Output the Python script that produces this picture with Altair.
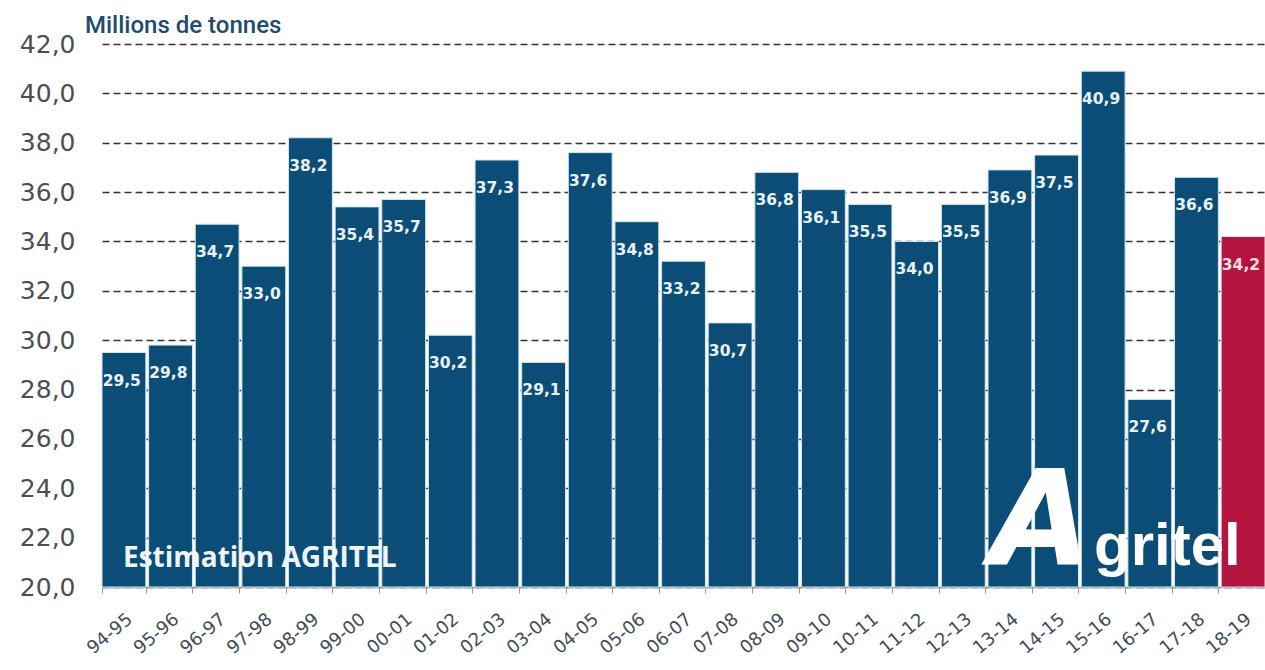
import altair as alt
import pandas as pd

seasons = ["94-95", "95-96", "96-97", "97-98", "98-99", "99-00", "00-01", "01-02",
           "02-03", "03-04", "04-05", "05-06", "06-07", "07-08", "08-09", "09-10",
           "10-11", "11-12", "12-13", "13-14", "14-15", "15-16", "16-17", "17-18", "18-19"]
values = [29.5, 29.8, 34.7, 33.0, 38.2, 35.4, 35.7, 30.2, 37.3, 29.1, 37.6, 34.8, 33.2,
          30.7, 36.8, 36.1, 35.5, 34.0, 35.5, 36.9, 37.5, 40.9, 27.6, 36.6, 34.2]
kinds = ["hist"] * 24 + ["estim"]

df = pd.DataFrame({"season": seasons, "value": values, "kind": kinds})
df["label"] = [f"{v:.1f}".replace(".", ",") for v in values]

W, H = 1163, 543
BAND = W / len(seasons)

xenc = alt.X("season:N", sort=seasons, title=None,
             scale=alt.Scale(paddingInner=0.06, paddingOuter=0.0),
             axis=alt.Axis(labelAngle=-40, labelFontSize=18, labelColor="#3f4d5a",
                           labelFont="DejaVu Sans", domainColor="#999999",
                           tickColor="#999999", tickSize=6, tickBand="extent",
                           labelPadding=17, grid=False, domainWidth=1.5))
yscale = alt.Scale(domain=[20, 42], nice=False, zero=False)

bars = alt.Chart(df).mark_bar(stroke="#cfe6f2", strokeWidth=1).encode(
    x=xenc,
    y=alt.Y("value:Q", scale=yscale, title=None,
            axis=alt.Axis(values=list(range(20, 43, 2)),
                          labelExpr="replace(format(datum.value, '.1f'), '.', ',')",
                          labelFontSize=25, labelColor="#4a4f55", labelFont="DejaVu Sans",
                          labelPadding=27, domain=False, ticks=False,
                          grid=True, gridColor="#333333", gridDash=[7, 4], gridWidth=1.4)),
    y2=alt.datum(20),
    color=alt.Color("kind:N", scale=alt.Scale(domain=["hist", "estim"],
                                              range=["#0b4d76", "#b3153f"]), legend=None),
)

labels = alt.Chart(df).mark_text(align="left", baseline="middle", dy=28,
                                 xOffset=-BAND / 2 + 2, fontSize=15.5,
                                 fontWeight="bold", font="DejaVu Sans").encode(
    x=alt.X("season:N", sort=seasons),
    y=alt.Y("value:Q", scale=yscale),
    text="label:N",
    color=alt.condition(alt.datum.kind == "estim", alt.value("#f7dfe6"), alt.value("#e8f2f8")),
)

ann_df = pd.DataFrame({"t": ["Millions de tonnes"]})
title_txt = alt.Chart(ann_df).mark_text(align="left", baseline="alphabetic", fontSize=24,
                                        font="Roboto", fontWeight=500,
                                        color="#1d4c6e").encode(
    x=alt.value(-17), y=alt.value(-11), text="t:N")

est_df = pd.DataFrame({"t": ["Estimation AGRITEL"]})
est_txt = alt.Chart(est_df).mark_text(align="left", baseline="alphabetic", fontSize=28,
                                      font="Open Sans", fontWeight="bold",
                                      color="#eef5fa").encode(
    x=alt.value(21), y=alt.value(523), text="t:N")

a_df = pd.DataFrame({"t": ["A"]})
logo_a = alt.Chart(a_df).mark_text(align="left", baseline="alphabetic", fontSize=132,
                                   font="DejaVu Sans", fontWeight="bold", fontStyle="italic",
                                   color="#ffffff").encode(
    x=alt.value(888), y=alt.value(521), text="t:N")

g_df = pd.DataFrame({"t": ["gritel"]})
logo_g = alt.Chart(g_df).mark_text(align="left", baseline="alphabetic", fontSize=60,
                                   font="Liberation Sans", fontWeight="bold",
                                   color="#ffffff").encode(
    x=alt.value(992), y=alt.value(521), text="t:N")

chart = alt.layer(bars, labels, title_txt, est_txt, logo_a, logo_g).properties(
    width=W, height=H,
    padding={"left": 102, "top": 44, "right": 0, "bottom": 78},
    autosize=alt.AutoSizeParams(type="none"),
    background="#ffffff",
).configure_view(stroke=None)

chart.save("out.html", embed_options={"renderer": "svg", "actions": False})
